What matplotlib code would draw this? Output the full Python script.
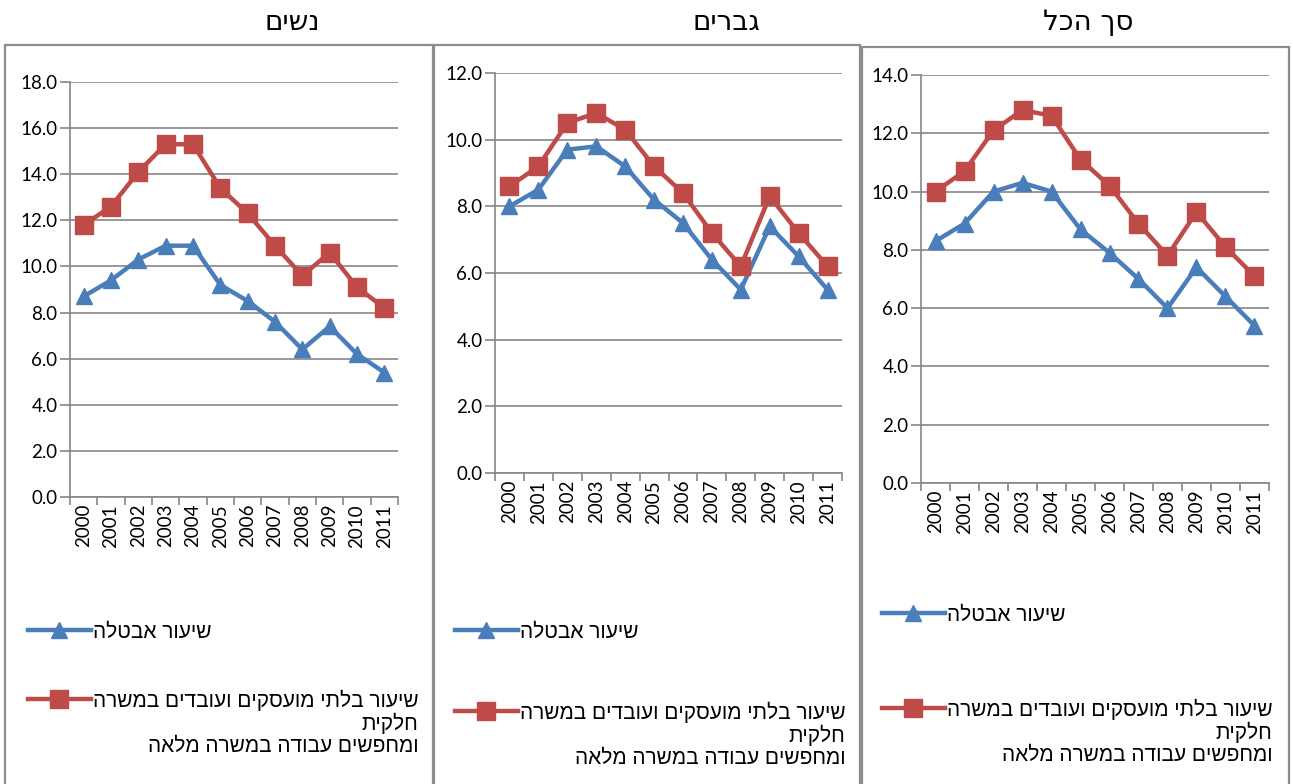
import matplotlib
matplotlib.use('Agg')
import matplotlib.pyplot as plt
from matplotlib.patches import Rectangle
from matplotlib.lines import Line2D

# data (percent)
years = ['2000', '2001', '2002', '2003', '2004', '2005',
         '2006', '2007', '2008', '2009', '2010', '2011']

women_unemp = [8.7, 9.4, 10.3, 10.9, 10.9, 9.2, 8.5, 7.6, 6.4, 7.4, 6.2, 5.4]
women_broad = [11.8, 12.6, 14.1, 15.3, 15.3, 13.4, 12.3, 10.9, 9.6, 10.6, 9.1, 8.2]

men_unemp = [8.0, 8.5, 9.7, 9.8, 9.2, 8.2, 7.5, 6.4, 5.5, 7.4, 6.5, 5.5]
men_broad = [8.6, 9.2, 10.5, 10.8, 10.3, 9.2, 8.4, 7.2, 6.2, 8.3, 7.2, 6.2]

total_unemp = [8.3, 8.9, 10.0, 10.3, 10.0, 8.7, 7.9, 7.0, 6.0, 7.4, 6.4, 5.4]
total_broad = [10.0, 10.7, 12.1, 12.8, 12.6, 11.1, 10.2, 8.9, 7.8, 9.3, 8.1, 7.1]

titles = ['נשים', 'גברים', 'סך הכל']
ymaxes = [18, 12, 14]
label_unemp = 'שיעור אבטלה'
label_broad = ['שיעור בלתי מועסקים ועובדים במשרה', 'חלקית', 'ומחפשים עבודה במשרה מלאה']

BLUE = '#4A7EBB'
RED = '#BE4B48'
GRID = '#868686'
W, H = 1293, 784
LEG_FONT = {'family': 'Liberation Sans', 'size': 15}


def heb(s):
    # matplotlib has no bidi support, so flip the visual order by hand
    return s[::-1]


def fx(px):
    return px / W


def fy(py):
    return 1 - py / H


fig = plt.figure(figsize=(W / 100, H / 100), dpi=100)

# pixel layout of each panel: box, plot area, title centre, legend rows
panels = [
    dict(box=(5, 433, 45), plot=(70, 398, 82, 497), title_x=292,
         leg_x=28, blue_y=632, red_y=700, data=(women_unemp, women_broad)),
    dict(box=(434, 860, 45), plot=(495, 842, 73, 473), title_x=726,
         leg_x=455, blue_y=632, red_y=712, data=(men_unemp, men_broad)),
    dict(box=(862, 1289, 47), plot=(921, 1269, 75, 483), title_x=1088,
         leg_x=882, blue_y=615, red_y=709, data=(total_unemp, total_broad)),
]

red_legends = []
for i, p in enumerate(panels):
    bx0, bx1, by = p['box']
    fig.patches.append(Rectangle((fx(bx0), -0.05), fx(bx1 - bx0), fy(by) + 0.05,
                                 transform=fig.transFigure, fill=False,
                                 edgecolor='#8c8c8c', linewidth=1.6))
    fig.text(fx(p['title_x']), fy(22), heb(titles[i]), ha='center', va='center',
             fontsize=20, family='DejaVu Sans')

    l, r, t, b = p['plot']
    ax = fig.add_axes([fx(l), fy(b), fx(r - l), (b - t) / H])
    unemp, broad = p['data']
    x = list(range(len(years)))
    ax.plot(x, unemp, color=BLUE, lw=3.2, marker='^', markersize=11, zorder=3)
    ax.plot(x, broad, color=RED, lw=3.2, marker='s', markersize=13, zorder=3)

    ax.set_xlim(-0.5, len(years) - 0.5)
    ax.set_ylim(0, ymaxes[i])
    ax.set_yticks(range(0, ymaxes[i] + 1, 2))
    ax.set_yticklabels([f'{v:.1f}' for v in range(0, ymaxes[i] + 1, 2)],
                       fontsize=13.5, family='Lato')
    ax.set_xticks(x)
    ax.set_xticklabels(years, rotation=90, fontsize=13.5, family='Lato')
    ax.set_xticks([v - 0.5 for v in range(len(years) + 1)], minor=True)
    ax.tick_params(axis='x', which='major', length=0, pad=5)
    ax.tick_params(axis='x', which='minor', length=6, color=GRID, width=1.2)
    ax.tick_params(axis='y', length=7, color=GRID, width=1.2, pad=2)
    ax.grid(axis='y', color=GRID, lw=1.2)
    ax.set_axisbelow(True)
    for s in ['top', 'right']:
        ax.spines[s].set_visible(False)
    for s in ['left', 'bottom']:
        ax.spines[s].set_color(GRID)
        ax.spines[s].set_linewidth(1.2)

    # legends, one entry each, placed like the original
    h_blue = Line2D([], [], color=BLUE, lw=3.2, marker='^', markersize=11)
    h_red = Line2D([], [], color=RED, lw=3.2, marker='s', markersize=13)
    fig.legend([h_blue], [heb(label_unemp)], loc='center left',
               bbox_to_anchor=(fx(p['leg_x']), fy(p['blue_y'])), frameon=False,
               handlelength=3.0, handletextpad=0.1, borderpad=0, borderaxespad=0,
               prop=LEG_FONT)
    leg = fig.legend([h_red], [heb(label_broad[0])], loc='center left',
                     bbox_to_anchor=(fx(p['leg_x']), fy(p['red_y'])),
                     frameon=False, handlelength=3.0, handletextpad=0.1,
                     borderpad=0, borderaxespad=0, prop=LEG_FONT)
    red_legends.append((leg, p['red_y']))

# remaining lines of the long label, right-aligned under the first line
fig.canvas.draw()
renderer = fig.canvas.get_renderer()
for leg, ry in red_legends:
    bb = leg.get_texts()[0].get_window_extent(renderer)
    right = bb.x1 / W
    for k, line in enumerate(label_broad[1:], start=1):
        fig.text(right, fy(ry + 23 * k), heb(line), ha='right', va='center',
                 **LEG_FONT)

fig.savefig('out.png', dpi=100)
